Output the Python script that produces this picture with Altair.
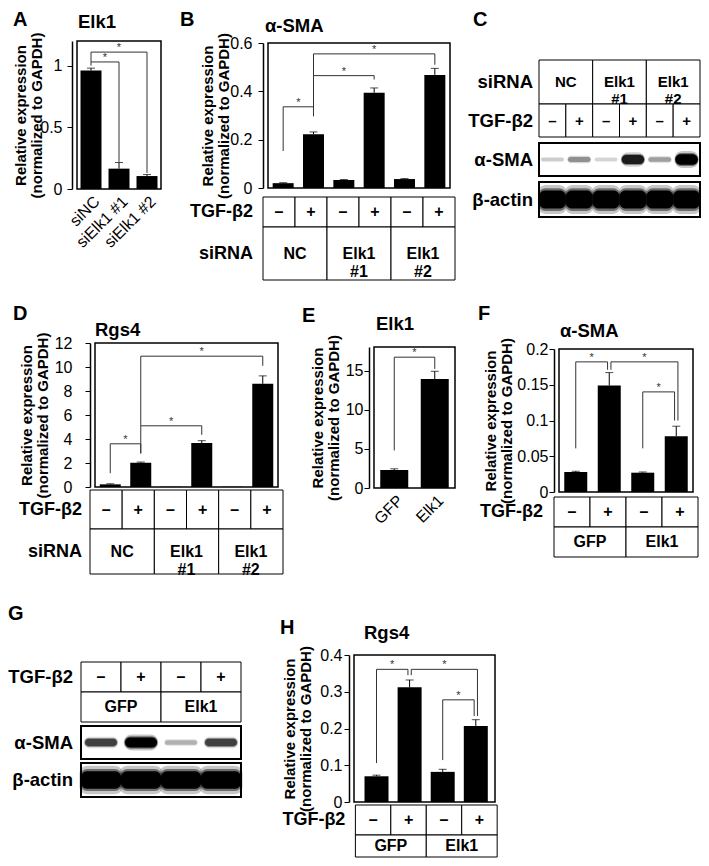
import json
import altair as alt
import pandas as pd

W, H = 693, 850
FONT = "Liberation Sans"
YTITLE = ["Relative expression", "(normalized to GAPDH)"]

# ---------------- data ----------------
A_cats = ["siNC", "siElk1 #1", "siElk1 #2"]
A_vals = [0.96, 0.165, 0.105]
A_errs = [0.02, 0.05, 0.012]
A_brackets = [[0, 1, 1.03, 1.0, 0.22], [0, 2, 1.11, 1.03, 0.13]]

TGF6 = ["–", "+", "–", "+", "–", "+"]
TGF4 = ["–", "+", "–", "+"]
SI_groups = ["NC", "Elk1\n#1", "Elk1\n#2"]
OE_groups = ["GFP", "Elk1"]

B_vals = [0.02, 0.222, 0.033, 0.394, 0.037, 0.468]
B_errs = [0.002, 0.01, 0.002, 0.02, 0.002, 0.027]
B_brackets = [[0, 1, 0.336, 0.153, 0.297], [1, 3, 0.465, 0.297, 0.449], [1, 5, 0.555, 0.465, 0.51]]

C_sma = [0.12, 0.3, 0.1, 0.8, 0.25, 1.0]
C_actin = [1.0, 1.0, 1.0, 1.0, 1.0, 1.0]

D_vals = [0.22, 2.02, 0.02, 3.67, 0.02, 8.6]
D_errs = [0.05, 0.06, 0.0, 0.19, 0.0, 0.66]
D_brackets = [[0, 1, 3.6, 1.15, 2.8], [1, 3, 5.1, 2.8, 4.35], [1, 5, 10.9, 5.1, 10.1]]

E_cats = ["GFP", "Elk1"]
E_vals = [2.3, 13.9]
E_errs = [0.15, 1.0]
E_brackets = [[0, 1, 16.7, 4.8, 15.2]]

F_vals = [0.028, 0.149, 0.027, 0.078]
F_errs = [0.001, 0.018, 0.001, 0.014]
F_brackets = [[0, 1, 0.182, 0.061, 0.171], [1, 3, 0.182, 0.171, 0.1], [2, 3, 0.14, 0.061, 0.1]]

G_sma = [0.6, 1.0, 0.2, 0.6]
G_actin = [1.0, 1.0, 1.0, 1.0]

H_vals = [0.07, 0.312, 0.082, 0.207]
H_errs = [0.003, 0.02, 0.007, 0.017]
H_brackets = [[0, 1, 0.361, 0.106, 0.345], [1, 3, 0.361, 0.345, 0.234], [2, 3, 0.278, 0.114, 0.234]]

# ---------------- helpers ----------------
INK = "#333333"


def enc(xs, ys, xaxis, yaxis, xf="x", yf="y"):
    return dict(x=alt.X(f"{xf}:Q", scale=xs, axis=xaxis),
                y=alt.Y(f"{yf}:Q", scale=ys, axis=yaxis))


def bracket_data(brackets, d):
    legs = {}
    for b, (i, j, top, ei, ej) in enumerate(brackets):
        legs.setdefault(i, []).append((1, -top, b, "L"))
        legs.setdefault(j, []).append((0, top, b, "R"))
    pos = {}
    for c, lst in legs.items():
        lst.sort()
        m = len(lst)
        for k, (_, _, b, side) in enumerate(lst):
            pos[(b, side)] = c + (k - (m - 1) / 2) * 2 * d
    segs, stars = [], []
    for b, (i, j, top, ei, ej) in enumerate(brackets):
        li, rj = pos[(b, "L")], pos[(b, "R")]
        segs += [dict(x1=li, x2=rj, y1=top, y2=top),
                 dict(x1=li, x2=li, y1=top, y2=ei),
                 dict(x1=rj, x2=rj, y1=top, y2=ej)]
        stars.append(dict(x=(li + rj) / 2, y=top, t="*"))
    return pd.DataFrame(segs), pd.DataFrame(stars)


def bar_panel(p):
    n = len(p["vals"])
    pl, pr = p.get("pad", (0, 0))
    dom = [-0.5 - pl, n - 0.5 + pr]
    xr, yr = p["xr"], p["yr"]
    xs = alt.Scale(domain=dom, range=list(xr), nice=False, zero=False)
    ys = alt.Scale(domain=[0, p["ymax"]], range=[yr[0], yr[1]], nice=False, zero=False)
    df = pd.DataFrame({"x": list(range(n)), "y": p["vals"], "e": p["errs"]})
    df["top"] = df["y"] + df["e"]

    if p.get("xlabels"):
        xaxis = alt.Axis(orient="bottom", offset=yr[0] - H, values=list(range(n)),
                         labelExpr=json.dumps(p["xlabels"]) + "[datum.value]",
                         labelAngle=315, labelAlign="right", labelBaseline="top",
                         ticks=False, domain=False, title=None, labelFontSize=16,
                         labelPadding=4, labelBound=False, labelOverlap=False)
    else:
        xaxis = None
    yaxis = alt.Axis(orient="left", offset=-xr[0], values=p["ticks"], format="~g",
                     title=YTITLE, titleX=p["ytx"], titleY=(yr[0] + yr[1]) / 2,
                     titleAngle=270, titleAlign="center", titleBaseline="middle",
                     titleFontSize=15, titleFontWeight="bold", titleLineHeight=15.5,
                     labelPadding=p["lpad"], labelFontSize=16, tickSize=5,
                     domainWidth=1.5, labelOverlap=False, labelBound=False)

    E = lambda xf="x", yf="y": enc(xs, ys, xaxis, yaxis, xf, yf)

    bars = alt.Chart(df).mark_bar(color="black", size=p["bar"], orient="vertical").encode(**E())
    err = alt.Chart(df).transform_filter("datum.e > 0").mark_rule(
        color="black", strokeWidth=1).encode(y2="top:Q", **E())
    cap = alt.Chart(df).transform_filter("datum.e > 0").mark_tick(
        color="black", thickness=1, size=8, orient="horizontal").encode(**E("x", "top"))
    segs, stars = bracket_data(p["brackets"], p["d"])
    brk = alt.Chart(segs).mark_rule(color=INK, strokeWidth=1).encode(
        x2="x2:Q", y2="y2:Q", **E("x1", "y1"))
    ast = alt.Chart(stars).mark_text(fontSize=11, baseline="bottom", dy=1,
                                     fill=INK, color=INK).encode(text="t:N", **E())
    frame = alt.Chart(pd.DataFrame([dict(x1=dom[0], x2=dom[1], y1=0, y2=p["ymax"])])).mark_rect(
        filled=False, color="black", strokeWidth=1.5).encode(x2="x2:Q", y2="y2:Q", **E("x1", "y1"))
    anchor = pd.DataFrame([dict(x=dom[0], y=p["ymax"], t=p["title"])])
    title = alt.Chart(anchor).mark_text(align="left", baseline="alphabetic", fontSize=18.5,
                                        fontWeight="bold", dx=p["tdx"], dy=p["tdy"]).encode(
        text="t:N", **E())
    letter = alt.Chart(anchor.assign(t=p["letter"])).mark_text(
        align="left", baseline="alphabetic", fontSize=20, fontWeight="bold",
        dx=p["ldx"], dy=p["ldy"]).encode(text="t:N", **E())
    return alt.layer(bars, err, cap, brk, ast, frame, title, letter)


def table_panel(t):
    n = t["n"]
    pl, pr = t.get("pad", (0, 0))
    dom = [-0.5 - pl, n - 0.5 + pr]
    xs = alt.Scale(domain=dom, range=list(t["xr"]), nice=False, zero=False)
    nb = len(t["bounds"])
    ys = alt.Scale(domain=list(range(nb)), range=list(t["bounds"]), nice=False, zero=False)
    E = lambda xf="x", yf="y": enc(xs, ys, None, None, xf, yf)
    cells = []
    for r, row in enumerate(t["rows"]):
        for s, e, txt in row:
            cells.append(dict(x1=s - 0.5, x2=e + 0.5, y1=r, y2=r + 1,
                              x=(s + e) / 2, y=r + 0.5, t=txt))
    cdf = pd.DataFrame(cells)
    layers = [
        alt.Chart(cdf).mark_rect(fill="white", stroke="black", strokeWidth=1).encode(
            x2="x2:Q", y2="y2:Q", **E("x1", "y1")),
        alt.Chart(cdf).mark_text(fontSize=t["fs"], fontWeight="bold", baseline="middle",
                                 align="center", lineBreak="\n",
                                 lineHeight=t["fs"] + 2).encode(text="t:N", **E()),
    ]
    for r, vals, base, k, wid in t.get("blots", []):
        box = pd.DataFrame([dict(x1=-0.5, x2=n - 0.5, y1=r, y2=r + 1)])
        layers.append(alt.Chart(box).mark_rect(fill="white", stroke="black", strokeWidth=2).encode(
            x2="x2:Q", y2="y2:Q", **E("x1", "y1")))
        bdf = pd.DataFrame({"i": list(range(n)), "I": vals})
        bdf["h"] = base + k * bdf["I"]
        # soft halo, mid and dense core of each band
        for grow, fade, wg, rad in [(1.6, 0.22, 1.08, 8), (1.25, 0.45, 1.04, 7), (1.0, 1.0, 1.0, 6)]:
            g = bdf.copy()
            g["x1"] = g["i"] - wid * wg
            g["x2"] = g["i"] + wid * wg
            g["y1"] = r + 0.5 - g["h"] * grow
            g["y2"] = r + 0.5 + g["h"] * grow
            g["op"] = g["I"] * fade
            layers.append(alt.Chart(g).mark_rect(color="black", cornerRadius=rad).encode(
                x2="x2:Q", y2="y2:Q", opacity=alt.Opacity("op:Q", scale=None), **E("x1", "y1")))
        layers.append(alt.Chart(box).mark_rect(filled=False, color="black", strokeWidth=2).encode(
            x2="x2:Q", y2="y2:Q", **E("x1", "y1")))
    ldf = pd.DataFrame([dict(x=-0.5, y=r + 0.5, t=s) for r, s in t["labels"]])
    layers.append(alt.Chart(ldf).mark_text(align="right", baseline="middle", dx=-t["gap"],
                                           fontSize=t["lfs"], fontWeight="bold").encode(
        text="t:N", **E()))
    if t.get("letter"):
        let = pd.DataFrame([dict(x=-0.5, y=0, t=t["letter"])])
        layers.append(alt.Chart(let).mark_text(align="left", baseline="alphabetic",
                                               fontSize=20, fontWeight="bold",
                                               dx=t["ldx"], dy=t["ldy"]).encode(
            text="t:N", **E()))
    return alt.layer(*layers)


def tgf_row(sym):
    return [(k, k, s) for k, s in enumerate(sym)]


def group_row(names):
    return [(2 * g, 2 * g + 1, s) for g, s in enumerate(names)]


# ---------------- panels ----------------
A = bar_panel(dict(vals=A_vals, errs=A_errs, brackets=A_brackets, ymax=1.2, ticks=[0, 0.5, 1],
                   xr=(64, 158), yr=(181, 33), bar=21, title="Elk1", tdx=1, tdy=-13,
                   letter="A", ldx=-64, ldy=-15, ytx=-51.5, lpad=5, d=0.0, xlabels=A_cats))
B = bar_panel(dict(vals=B_vals, errs=B_errs, brackets=B_brackets, ymax=0.6, ticks=[0, 0.2, 0.4, 0.6],
                   xr=(255, 447), yr=(180, 35), bar=21, title="α-SMA", tdx=-3, tdy=-11,
                   letter="B", ldx=-88, ldy=-17, ytx=-55.5, lpad=6, d=0.0))
Bt = table_panel(dict(n=6, xr=(255, 447), bounds=[189, 219, 272],
                      rows=[tgf_row(TGF6), group_row(SI_groups)],
                      labels=[(0, "TGF-β2"), (1, "siRNA")], gap=10, fs=16, lfs=18))
C = table_panel(dict(n=6, xr=(531, 692), bounds=[52, 96, 129, 135, 168, 174, 209],
                     rows=[group_row(SI_groups), tgf_row(TGF6)],
                     labels=[(0, "siRNA"), (1, "TGF-β2"), (3, "α-SMA"), (5, "β-actin")],
                     blots=[(3, C_sma, 0.04, 0.12, 0.42), (5, C_actin, 0.26, 0.0, 0.5)],
                     gap=6, fs=15, lfs=18.5, letter="C", ldx=-66, ldy=-34))
D = bar_panel(dict(vals=D_vals, errs=D_errs, brackets=D_brackets, ymax=12, ticks=list(range(0, 13, 2)),
                   xr=(82, 275), yr=(479, 335), bar=21, title="Rgs4", tdx=0, tdy=-7,
                   letter="D", ldx=-82, ldy=-23, ytx=-63.5, lpad=13, d=0.0))
Dt = table_panel(dict(n=6, xr=(82, 275), bounds=[482, 521, 566],
                      rows=[tgf_row(TGF6), group_row(SI_groups)],
                      labels=[(0, "TGF-β2"), (1, "siRNA")], gap=8, fs=16, lfs=18))
E = bar_panel(dict(vals=E_vals, errs=E_errs, brackets=E_brackets, ymax=18, ticks=[0, 5, 10, 15],
                   xr=(361, 452), yr=(480, 339), bar=28, title="Elk1", tdx=2, tdy=-17,
                   letter="E", ldx=-72, ldy=-25, ytx=-51.5, lpad=1, d=0.0, xlabels=E_cats))
F = bar_panel(dict(vals=F_vals, errs=F_errs, brackets=F_brackets, ymax=0.2,
                   ticks=[0, 0.05, 0.1, 0.15, 0.2],
                   xr=(546, 690), yr=(484, 341), bar=23, title="α-SMA", tdx=1, tdy=-12,
                   letter="F", ldx=-81, ldy=-29, ytx=-63.5, lpad=1, d=0.05))
Ft = table_panel(dict(n=4, xr=(546, 690), bounds=[489, 519, 549],
                      rows=[tgf_row(TGF4), group_row(OE_groups)],
                      labels=[(0, "TGF-β2")], gap=11, fs=16, lfs=18))
G = table_panel(dict(n=4, xr=(73, 233), bounds=[654, 684, 714, 718, 751, 755, 789],
                     rows=[tgf_row(TGF4), group_row(OE_groups)],
                     labels=[(0, "TGF-β2"), (3, "α-SMA"), (5, "β-actin")],
                     blots=[(3, G_sma, 0.05, 0.1, 0.4), (5, G_actin, 0.26, 0.0, 0.5)],
                     gap=8, fs=16, lfs=18.5, letter="G", ldx=-73, ldy=-42))
Hp = bar_panel(dict(vals=H_vals, errs=H_errs, brackets=H_brackets, ymax=0.4,
                    ticks=[0, 0.1, 0.2, 0.3, 0.4], pad=(0.18, 0.08),
                    xr=(341, 492), yr=(794, 647), bar=24, title="Rgs4", tdx=10, tdy=-16,
                    letter="H", ldx=-74, ldy=-21, ytx=-59.5, lpad=2, d=0.05))
Ht = table_panel(dict(n=4, xr=(341, 492), pad=(0.18, 0.08), bounds=[797, 827, 849],
                      rows=[tgf_row(TGF4), group_row(OE_groups)],
                      labels=[(0, "TGF-β2")], gap=10, fs=16, lfs=18))

chart = alt.layer(A, B, Bt, C, D, Dt, E, F, Ft, G, Hp, Ht).resolve_scale(
    x="independent", y="independent"
).properties(
    width=W, height=H, autosize=alt.AutoSizeParams(type="none"), padding=0
).configure_view(stroke=None).configure_axis(
    grid=False, labelFont=FONT, titleFont=FONT, labelColor="black", titleColor="black",
    tickColor="black", domainColor="black"
).configure_text(font=FONT, color="black")

chart.save("out.html", embed_options={"renderer": "svg", "actions": False})
